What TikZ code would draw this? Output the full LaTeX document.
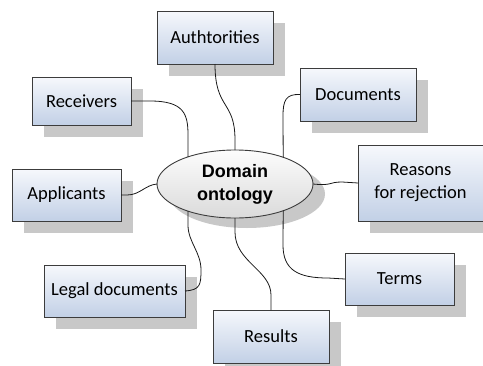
\documentclass[tikz,border=0pt]{standalone}
\usepackage{fontspec}
\setmainfont{Carlito}
\newfontfamily\arialfont{Liberation Sans}
\usetikzlibrary{shadows,shapes.geometric}
\definecolor{boxtop}{RGB}{246,248,252}
\definecolor{boxbot}{RGB}{194,208,230}
\definecolor{shadowc}{RGB}{200,200,200}
\definecolor{borderc}{RGB}{60,60,60}
\definecolor{elltop}{RGB}{252,252,252}
\definecolor{ellbot}{RGB}{218,218,218}
\tikzset{
  conceptbox/.style={draw=borderc, line width=0.9pt, top color=boxtop, bottom color=boxbot,
    general shadow={fill=shadowc, shadow xshift=12pt, shadow yshift=-12pt},
    inner sep=0pt, outer sep=0pt, align=center,
    font=\fontsize{18.5}{23}\selectfont},
  hub/.style={ellipse, draw=borderc, line width=0.9pt, top color=elltop, bottom color=ellbot,
    general shadow={fill=shadowc, shadow xshift=12pt, shadow yshift=-10pt},
    minimum width=156pt, minimum height=68pt, inner sep=0pt, outer sep=0pt, align=center,
    font=\arialfont\bfseries\fontsize{18}{23}\selectfont},
  link/.style={draw=black!90, line width=0.8pt}
}
\begin{document}
\begin{tikzpicture}[x=1pt,y=-1pt]
\useasboundingbox (0,0) rectangle (483,365);
\node[conceptbox, minimum width=116pt, minimum height=53pt] (auth) at (215,37.5) {Authtorities};
\node[conceptbox, minimum width=99pt, minimum height=48pt] (rec) at (81.5,101) {Receivers};
\node[conceptbox, minimum width=116pt, minimum height=53pt] (doc) at (358,94.5) {Documents};
\node[conceptbox, minimum width=125pt, minimum height=76pt] (rea) at (420.5,183) {Reasons\\for rejection};
\node[conceptbox, minimum width=109pt, minimum height=52pt] (app) at (66.5,195) {Applicants};
\node[conceptbox, minimum width=141pt, minimum height=52pt] (legal) at (114.5,291) {Legal documents};
\node[conceptbox, minimum width=116pt, minimum height=53pt] (res) at (271,336.5) {Results};
\node[conceptbox, minimum width=109pt, minimum height=52pt] (terms) at (399.5,279) {Terms};
\node[hub] (dom) at (235,184) {Domain\\ontology};
% connectors
\draw[link] (rec.east) -- (150,101) .. controls (184,101) and (188,114) .. (188,135) -- (dom.150);
\draw[link] (auth.south) .. controls (215,110) and (235,100) .. (235,140) -- (dom.north);
\draw[link] (doc.west) .. controls (286,94) and (283,100) .. (283,116) -- (dom.29);
\draw[link] (dom.east) .. controls (333,186) and (328,182) .. (342,182) -- (rea.west);
\draw[link] (app.east) -- (127,195) .. controls (140,195) and (145,185) .. (dom.west);
\draw[link] (legal.east) .. controls (200,290) and (201,285) .. (201,270) .. controls (201,252) and (188,242) .. (188,225) -- (dom.210);
\draw[link] (dom.south) -- (235,232) .. controls (235,262) and (271,270) .. (271,295) -- (res.north);
\draw[link] (dom.331) -- (283,245) .. controls (283,270) and (298,278) .. (328,278) -- (terms.west);
\end{tikzpicture}
\end{document}
